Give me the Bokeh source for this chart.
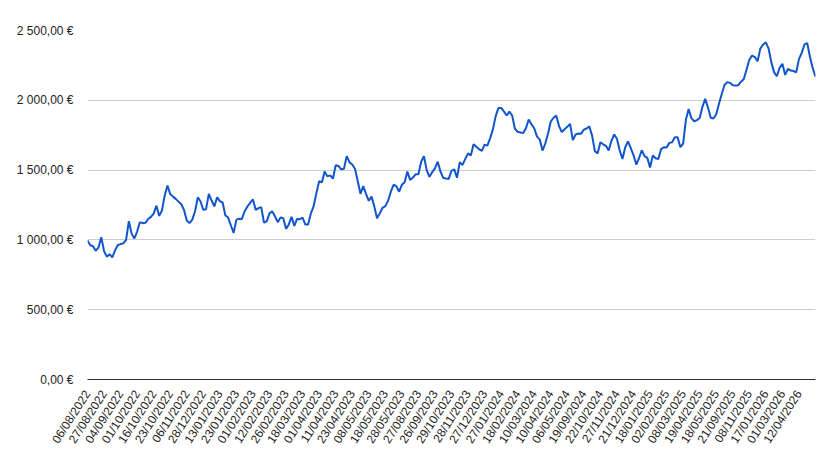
from bokeh.plotting import figure
from bokeh.models import FixedTicker, Range1d
from bokeh.embed import file_html
from bokeh.resources import INLINE

values = [
    996, 962, 955, 922, 946, 1019, 920, 880, 898, 875,
    925, 964, 970, 975, 1000, 1134, 1045, 1010, 1060, 1127,
    1120, 1122, 1150, 1165, 1188, 1245, 1172, 1210, 1318, 1390,
    1328, 1310, 1294, 1274, 1255, 1215, 1139, 1120, 1145, 1205,
    1305, 1275, 1215, 1220, 1330, 1282, 1240, 1305, 1278, 1268,
    1175, 1160, 1103, 1050, 1145, 1151, 1150, 1205, 1240, 1265,
    1290, 1215, 1228, 1235, 1125, 1133, 1190, 1205, 1168, 1127,
    1160, 1155, 1079, 1111, 1165, 1100, 1150, 1148, 1160, 1110,
    1110, 1190, 1240, 1335, 1420, 1412, 1490, 1455, 1462, 1440,
    1535, 1530, 1505, 1510, 1600, 1557, 1540, 1510, 1420, 1330,
    1385, 1330, 1280, 1310, 1240, 1155, 1190, 1230, 1242, 1280,
    1345, 1395, 1385, 1345, 1395, 1413, 1490, 1430, 1447, 1470,
    1470, 1560, 1600, 1500, 1452, 1485, 1512, 1560, 1490, 1445,
    1440, 1437, 1495, 1505, 1445, 1557, 1537, 1580, 1620, 1605,
    1685, 1668, 1650, 1638, 1682, 1675, 1727, 1790, 1885, 1945,
    1945, 1920, 1891, 1920, 1890, 1796, 1775, 1770, 1765, 1800,
    1862, 1828, 1800, 1740, 1720, 1640, 1690, 1760, 1848, 1875,
    1890, 1815, 1772, 1793, 1810, 1831, 1715, 1755, 1762, 1760,
    1790, 1798, 1813, 1745, 1635, 1620, 1700, 1685, 1674, 1640,
    1710, 1755, 1724, 1640, 1580, 1664, 1705, 1658, 1608, 1540,
    1585, 1642, 1600, 1588, 1518, 1605, 1585, 1580, 1650, 1664,
    1662, 1695, 1700, 1735, 1735, 1664, 1690, 1860, 1937, 1872,
    1850, 1858, 1873, 1953, 2010, 1950, 1875, 1870, 1900, 1975,
    2045, 2110, 2130, 2125, 2108, 2106, 2108, 2133, 2152, 2220,
    2290, 2320, 2310, 2280, 2370, 2400, 2415, 2370, 2270, 2200,
    2172, 2235, 2261, 2182, 2225, 2213, 2210, 2200, 2295, 2340,
    2400, 2410, 2310, 2230, 2170,
]

# Category labels shown on the x axis (one every `label_step` observations)
date_labels = [
    "06/08/2022", "27/08/2022", "04/09/2022", "01/10/2022", "16/10/2022",
    "23/10/2022", "06/11/2022", "28/12/2022", "13/01/2023", "23/01/2023",
    "01/02/2023", "12/02/2023", "26/02/2023", "18/03/2023", "01/04/2023",
    "11/04/2023", "23/04/2023", "08/05/2023", "18/05/2023", "28/05/2023",
    "27/08/2023", "26/09/2023", "29/10/2023", "28/11/2023", "27/12/2023",
    "27/01/2024", "18/02/2024", "10/03/2024", "10/04/2024", "06/05/2024",
    "19/09/2024", "22/10/2024", "27/11/2024", "21/12/2024", "18/01/2025",
    "02/02/2025", "08/03/2025", "19/04/2025", "18/05/2025", "21/09/2025",
    "08/11/2025", "17/01/2026", "01/03/2026", "12/04/2026",
]
label_step = 6

y_ticks = [0, 500, 1000, 1500, 2000, 2500]
y_tick_labels = ["0,00 €", "500,00 €", "1 000,00 €", "1 500,00 €", "2 000,00 €", "2 500,00 €"]

FONT = "Liberation Sans"
TEXT = "#222222"

x = list(range(len(values)))
p = figure(
    width=838, height=467,
    frame_width=728, frame_height=349,
    min_border_left=87, min_border_right=23, min_border_top=30, min_border_bottom=88,
    x_range=Range1d(0, len(values) - 1), y_range=Range1d(y_ticks[0], y_ticks[-1]),
    output_backend="svg", toolbar_location=None,
)
p.outline_line_color = None
p.background_fill_color = "white"

p.line(x, values, line_color="#1155cc", line_width=2)

# y axis
p.yaxis.ticker = FixedTicker(ticks=y_ticks)
p.yaxis.major_label_overrides = {t: l for t, l in zip(y_ticks, y_tick_labels)}
p.yaxis.axis_line_color = None
p.yaxis.major_tick_line_color = None
p.yaxis.minor_tick_line_color = None
p.yaxis.major_label_standoff = 8
p.yaxis.major_label_text_font = FONT
p.yaxis.major_label_text_font_size = "12px"
p.yaxis.major_label_text_color = TEXT

# x axis
x_ticks = [i * label_step for i in range(len(date_labels))]
p.xaxis.ticker = FixedTicker(ticks=x_ticks)
p.xaxis.major_label_overrides = {t: l for t, l in zip(x_ticks, date_labels)}
p.xaxis.major_label_orientation = 1.0
p.xaxis.axis_line_color = "#333333"
p.xaxis.axis_line_width = 1
p.xaxis.major_tick_line_color = None
p.xaxis.minor_tick_line_color = None
p.xaxis.major_label_standoff = 6
p.xaxis.major_label_text_font = FONT
p.xaxis.major_label_text_font_size = "12px"
p.xaxis.major_label_text_color = TEXT

p.xgrid.visible = False
p.ygrid.grid_line_color = "#cccccc"
p.ygrid.grid_line_width = 1

open("out.html", "w").write(file_html(p, INLINE))
